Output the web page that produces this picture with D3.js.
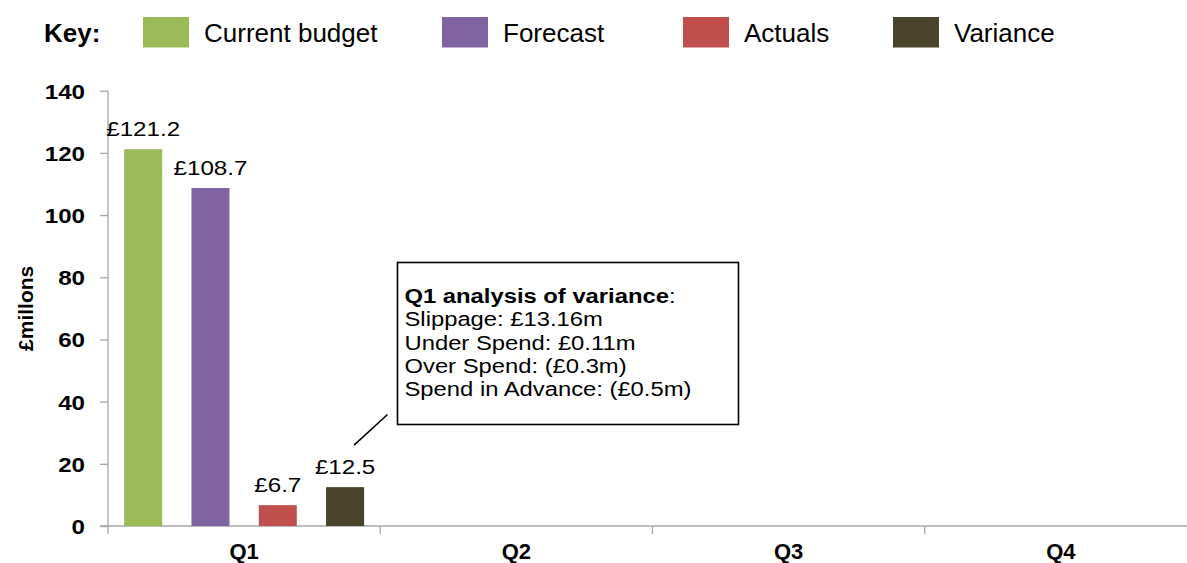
<!DOCTYPE html>
<html>
<head>
<meta charset="utf-8">
<script src="https://cdn.jsdelivr.net/npm/d3@7/dist/d3.min.js"></script>
<style>
  html, body { margin: 0; padding: 0; background: #ffffff; }
  svg { display: block; font-family: "Liberation Sans", Arial, sans-serif; }
</style>
</head>
<body>
<script>
// Quarterly capital spend (£ millions); only Q1 has been reported so far
const categories = ["Q1", "Q2", "Q3", "Q4"];
const seriesNames = ["Current budget", "Forecast", "Actuals", "Variance"];
const currentBudget = [121.2, null, null, null];
const forecast = [108.7, null, null, null];
const actuals = [6.7, null, null, null];
const variance = [12.5, null, null, null];
const yTicks = [0, 20, 40, 60, 80, 100, 120, 140];
const seriesColors = ["#9bbb59", "#8064a2", "#c0504d", "#4a452a"];
const noteTitle = "Q1 analysis of variance";
const noteLines = [
  "Slippage: £13.16m",
  "Under Spend: £0.11m",
  "Over Spend: (£0.3m)",
  "Spend in Advance: (£0.5m)"
];

const seriesValues = [currentBudget, forecast, actuals, variance];

const W = 1187, H = 563;
const plot = { left: 108, right: 1197, top: 90.7, bottom: 526 };
const wide = 1.15;   // horizontal stretch used by the in-plot text

const svg = d3.select("body").append("svg")
  .attr("width", W).attr("height", H);

const x0 = d3.scaleBand().domain(categories).range([plot.left, plot.right]).padding(0);
const x1 = d3.scaleBand().domain(seriesNames).range([0, x0.bandwidth()])
  .paddingInner(0.435).paddingOuter(0.24);
const y = d3.scaleLinear().domain([0, 140]).range([plot.bottom, plot.top]);
const axisGrey = "#a6a6a6";

// Legend row
const legendX = [143, 442, 683, 893];
svg.append("text").attr("x", 44).attr("y", 42)
  .attr("font-size", 26).attr("font-weight", "bold").attr("fill", "#000")
  .text("Key:");
const legend = svg.append("g").selectAll("g").data(seriesNames).join("g")
  .attr("transform", (d, i) => `translate(${legendX[i]},17)`);
legend.append("rect").attr("width", 46).attr("height", 30.5)
  .attr("fill", (d, i) => seriesColors[i]);
legend.append("text").attr("x", 61).attr("y", 24.8)
  .attr("font-size", 26).attr("fill", "#000").text(d => d);

// Y axis
const yAxis = svg.append("g").attr("transform", `translate(${plot.left},0)`)
  .call(d3.axisLeft(y).tickValues(yTicks).tickSize(8).tickSizeOuter(0));
yAxis.select(".domain").remove();
yAxis.selectAll(".tick line").attr("stroke", axisGrey).attr("stroke-width", 1.3);
yAxis.selectAll(".tick text")
  .attr("x", null).attr("dy", null)
  .attr("y", 7.5)
  .attr("transform", `translate(-23,0) scale(${wide},1)`)
  .attr("font-size", 21).attr("font-weight", "bold")
  .attr("fill", "#000").attr("font-family", "Liberation Sans, Arial, sans-serif");
svg.append("line")
  .attr("x1", plot.left).attr("x2", plot.left)
  .attr("y1", y(140)).attr("y2", plot.bottom + 8)
  .attr("stroke", axisGrey).attr("stroke-width", 1.3);

svg.append("text")
  .attr("transform", `translate(33,${(plot.top + plot.bottom) / 2}) rotate(-90)`)
  .attr("text-anchor", "middle").attr("font-size", 21).attr("font-weight", "bold")
  .attr("fill", "#000").text("£millons");

// X axis: baseline plus ticks between quarters
svg.append("line")
  .attr("x1", plot.left - 8).attr("x2", W)
  .attr("y1", plot.bottom).attr("y2", plot.bottom)
  .attr("stroke", axisGrey).attr("stroke-width", 1.3);
svg.append("g").selectAll("line").data(categories.slice(1)).join("line")
  .attr("x1", d => x0(d)).attr("x2", d => x0(d))
  .attr("y1", plot.bottom).attr("y2", plot.bottom + 8)
  .attr("stroke", axisGrey).attr("stroke-width", 1.3);
svg.append("g").selectAll("text").data(categories).join("text")
  .attr("x", d => x0(d) + x0.bandwidth() / 2).attr("y", 559)
  .attr("text-anchor", "middle").attr("font-size", 22).attr("font-weight", "bold")
  .attr("fill", "#000").text(d => d);

// Bars with value labels
const barData = [];
categories.forEach((c, ci) => {
  seriesNames.forEach((s, si) => {
    const v = seriesValues[si][ci];
    if (v != null) barData.push({ c, s, v, color: seriesColors[si] });
  });
});
const bars = svg.append("g").selectAll("g").data(barData).join("g");
bars.append("rect")
  .attr("x", d => x0(d.c) + x1(d.s))
  .attr("y", d => y(d.v))
  .attr("width", x1.bandwidth())
  .attr("height", d => y(0) - y(d.v))
  .attr("fill", d => d.color);
bars.append("text")
  .attr("transform", d => {
    const cx = x0(d.c) + x1(d.s) + x1.bandwidth() / 2;
    return `translate(${cx},${y(d.v) - 13}) scale(${wide},1)`;
  })
  .attr("text-anchor", "middle").attr("font-size", 21).attr("fill", "#000")
  .text(d => "£" + d3.format(".1f")(d.v));

// Variance note with leader line to the Q1 variance bar
const vBar = barData.find(d => d.c === "Q1" && d.s === "Variance");
const vCx = x0("Q1") + x1("Variance") + x1.bandwidth() / 2;
const leadStart = [vCx + 9, y(vBar.v) - 42];
const box = { x: 397.5, y: 262.5, w: 341, h: 162 };
svg.append("line")
  .attr("x1", leadStart[0]).attr("y1", leadStart[1])
  .attr("x2", box.x - 10).attr("y2", box.y + box.h - 10)
  .attr("stroke", "#000").attr("stroke-width", 1.6);
svg.append("rect")
  .attr("x", box.x).attr("y", box.y).attr("width", box.w).attr("height", box.h)
  .attr("fill", "#fff").attr("stroke", "#000").attr("stroke-width", 1.6);
const note = svg.append("g")
  .attr("transform", `translate(${box.x + 7},303) scale(1.19,1)`)
  .attr("font-size", 20).attr("fill", "#000");
const title = note.append("text").attr("x", 0).attr("y", 0);
title.append("tspan").attr("font-weight", "bold").text(noteTitle);
title.append("tspan").text(":");
note.selectAll("text.line").data(noteLines).join("text").attr("class", "line")
  .attr("x", 0).attr("y", (d, i) => (i + 1) * 23.3)
  .text(d => d);
</script>
</body>
</html>
